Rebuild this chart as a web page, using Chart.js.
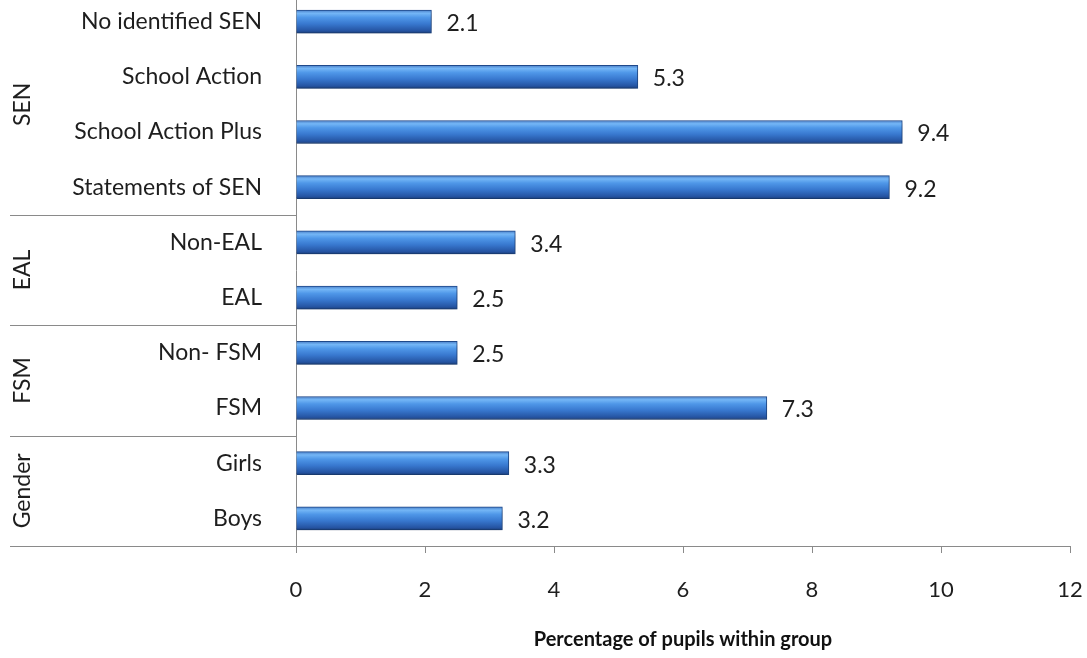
<!DOCTYPE html>
<html>
<head>
<meta charset="utf-8">
<script src="https://cdn.jsdelivr.net/npm/chart.js@4.4.0/dist/chart.umd.min.js"></script>
<style>
  html, body { margin: 0; padding: 0; background: #fff; overflow: hidden; }
  #wrap { position: absolute; left: 0; top: -6px; width: 1087px; height: 664px; }
</style>
</head>
<body>
<div id="wrap"><canvas id="chart"></canvas></div>
<script>
// categories, top to bottom
const categories = [
  "No identified SEN", "School Action", "School Action Plus", "Statements of SEN",
  "Non-EAL", "EAL",
  "Non- FSM", "FSM",
  "Girls", "Boys"
];
const values = [2.1, 5.3, 9.4, 9.2, 3.4, 2.5, 2.5, 7.3, 3.3, 3.2];

// groups shown on the far left
const groupNames = ["SEN", "EAL", "FSM", "Gender"];
const groupSizes = [4, 2, 2, 2];

const xTicks = [0, 2, 4, 6, 8, 10, 12];
const xTitle = "Percentage of pupils within group";

const FONT = "Lato, 'Open Sans', sans-serif";
const BAR_H = 23;

function barGradient(ctx) {
  const chart = ctx.chart;
  const area = chart.chartArea;
  if (!area) return "#3f86dc";
  const yc = chart.scales.y.getPixelForValue(ctx.dataIndex);
  const g = chart.ctx.createLinearGradient(0, yc - BAR_H / 2, 0, yc + BAR_H / 2);
  g.addColorStop(0, "#4a7fc8");
  g.addColorStop(0.14, "#74b6f6");
  g.addColorStop(0.32, "#4f97e8");
  g.addColorStop(0.6, "#3878cf");
  g.addColorStop(0.9, "#2554a2");
  g.addColorStop(1, "#1c3f7a");
  return g;
}

// soft shadow under the bars
const barShadow = {
  id: "barShadow",
  beforeDatasetsDraw(chart) {
    const c = chart.ctx;
    c.save();
    c.shadowColor = "rgba(0,0,0,0.28)";
    c.shadowBlur = 5;
    c.shadowOffsetY = 3;
  },
  afterDatasetsDraw(chart) {
    chart.ctx.restore();
  }
};

// value labels to the right of each bar
const valueLabels = {
  id: "valueLabels",
  afterDatasetsDraw(chart) {
    const c = chart.ctx;
    const meta = chart.getDatasetMeta(0);
    c.save();
    c.font = "23px " + FONT;
    c.fillStyle = "#1e1e1e";
    c.textAlign = "left";
    c.textBaseline = "middle";
    meta.data.forEach((bar, i) => {
      c.fillText(values[i].toFixed(1), bar.x + 15, bar.y + 2);
    });
    c.restore();
  }
};

// group separators, group names and the long bottom line
const groupLines = {
  id: "groupLines",
  afterDraw(chart) {
    const c = chart.ctx;
    const y = chart.scales.y;
    const area = chart.chartArea;
    const left = 10;
    const step = y.getPixelForValue(1) - y.getPixelForValue(0);
    c.save();
    c.strokeStyle = "#8a8a8a";
    c.lineWidth = 1;
    let start = 0;
    groupSizes.forEach((n, gi) => {
      const end = start + n;
      const yBottom = y.getPixelForValue(end - 1) + step / 2;
      const yTop = y.getPixelForValue(start) - step / 2;
      c.beginPath();
      c.moveTo(left, Math.round(yBottom) + 0.5);
      c.lineTo(gi === groupSizes.length - 1 ? area.right : area.left, Math.round(yBottom) + 0.5);
      c.stroke();
      // rotated group name
      c.save();
      c.translate(23, (yTop + yBottom) / 2);
      c.rotate(-Math.PI / 2);
      c.font = "23px " + FONT;
      c.fillStyle = "#1e1e1e";
      c.textAlign = "center";
      c.textBaseline = "middle";
      c.fillText(groupNames[gi], 0, 0);
      c.restore();
      start = end;
    });
    c.restore();
  }
};

new Chart(document.getElementById("chart"), {
  type: "bar",
  data: {
    labels: categories,
    datasets: [{
      data: values,
      backgroundColor: barGradient,
      borderColor: "#1f4a8c",
      borderWidth: 1,
      borderSkipped: "left",
      barThickness: BAR_H
    }]
  },
  options: {
    indexAxis: "y",
    responsive: true,
    maintainAspectRatio: false,
    animation: false,
    layout: { padding: { top: 0, right: 17, bottom: 0, left: 0 } },
    plugins: {
      legend: { display: false },
      tooltip: { enabled: false }
    },
    scales: {
      x: {
        min: 0,
        max: 12,
        afterBuildTicks(scale) {
          scale.ticks = xTicks.map(v => ({ value: v }));
        },
        afterFit(scale) {
          scale.height = 112;
          scale.paddingLeft = 0;
          scale.paddingRight = 0;
        },
        grid: {
          drawOnChartArea: false,
          drawTicks: true,
          tickLength: 7,
          color: "#8a8a8a"
        },
        border: { display: true, color: "#8a8a8a" },
        ticks: {
          color: "#1e1e1e",
          font: { family: FONT, size: 22 },
          padding: 24
        },
        title: {
          display: true,
          text: xTitle,
          color: "#111",
          font: { family: FONT, size: 20, weight: "bold" },
          padding: { top: 0, bottom: 6 }
        }
      },
      y: {
        afterFit(scale) {
          scale.width = 296;
          scale.paddingTop = 0;
          scale.paddingBottom = 0;
        },
        grid: { display: false },
        border: { display: true, color: "#8a8a8a" },
        ticks: {
          color: "#1e1e1e",
          font: { family: FONT, size: 23 },
          padding: 26
        }
      }
    }
  },
  plugins: [barShadow, valueLabels, groupLines]
});
</script>
</body>
</html>
